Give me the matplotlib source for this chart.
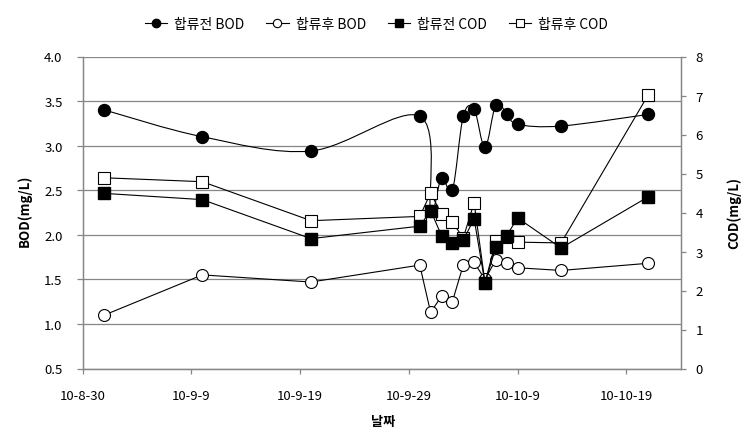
import matplotlib
matplotlib.use("Agg")
import matplotlib.pyplot as plt
import matplotlib.dates as mdates
from matplotlib.path import Path
from matplotlib.patches import PathPatch
from matplotlib.lines import Line2D
import numpy as np

plt.rcParams["font.family"] = ["Noto Sans CJK KR", "DejaVu Sans"]

dates = ["2010-09-01", "2010-09-10", "2010-09-20", "2010-09-30", "2010-10-01",
         "2010-10-02", "2010-10-03", "2010-10-04", "2010-10-05", "2010-10-06",
         "2010-10-07", "2010-10-08", "2010-10-09", "2010-10-13", "2010-10-21"]
bod_before = [3.40, 3.10, 2.94, 3.33, 2.27, 2.64, 2.50, 3.33, 3.41, 2.98,
              3.46, 3.36, 3.24, 3.22, 3.35]
bod_after = [1.10, 1.55, 1.47, 1.66, 1.13, 1.31, 1.25, 1.66, 1.69, 1.50,
             1.72, 1.68, 1.63, 1.60, 1.68]
cod_before = [4.49, 4.33, 3.33, 3.65, 4.05, 3.41, 3.23, 3.29, 3.84, 2.19,
              3.11, 3.41, 3.86, 3.09, 4.40]
cod_after = [4.89, 4.79, 3.79, 3.90, 4.50, 3.96, 3.75, 3.35, 4.25, 2.20,
             3.26, 3.38, 3.24, 3.22, 7.01]
tick_labels = ["10-8-30", "10-9-9", "10-9-19", "10-9-29", "10-10-9", "10-10-19"]
legend_labels = ["합류전 BOD", "합류후 BOD", "합류전 COD", "합류후 COD"]

GRAY = "#868686"


def smooth_path(x, y):
    # excel style smoothed line: bezier segments, tangents from neighbours / 6
    pts = np.column_stack([x, y])
    verts = [pts[0]]
    codes = [Path.MOVETO]
    n = len(pts)
    for i in range(n - 1):
        p0 = pts[max(i - 1, 0)]
        p1 = pts[i]
        p2 = pts[i + 1]
        p3 = pts[min(i + 2, n - 1)]
        verts += [p1 + (p2 - p0) / 6, p2 - (p3 - p1) / 6, p2]
        codes += [Path.CURVE4] * 3
    return Path(verts, codes)


def main():
    x = mdates.date2num(np.array(dates, dtype="datetime64[D]"))
    ticks = mdates.date2num(np.arange(np.datetime64("2010-08-30"),
                                      np.datetime64("2010-10-25"), 10))

    fig = plt.figure(figsize=(7.48, 4.39), dpi=100)
    ax = fig.add_axes([82.7 / 748, 1 - 369.5 / 439, 598 / 748, 312 / 439])
    ax2 = ax.twinx()

    # BOD on left axis
    ax.add_patch(PathPatch(smooth_path(x, bod_before), facecolor="none",
                           edgecolor="black", lw=0.8, zorder=2))
    ax.plot(x, bod_before, ls="none", marker="o", ms=8.6, color="black",
            mec="black", zorder=3)
    ax.plot(x, bod_after, color="black", lw=0.8, marker="o", ms=8.6,
            mfc="white", mec="black", mew=0.8, zorder=3)

    # COD on right axis
    ax2.plot(x, cod_after, color="black", lw=0.8, marker="s", ms=8.0,
             mfc="white", mec="black", mew=0.8)
    ax2.plot(x, cod_before, color="black", lw=0.8, marker="s", ms=8.0,
             mfc="black", mec="black")

    ax.set_xlim(mdates.date2num(np.datetime64("2010-08-30")),
                mdates.date2num(np.datetime64("2010-10-24")))
    ax.set_ylim(0.5, 4.0)
    ax.set_yticks(np.arange(0.5, 4.01, 0.5))
    ax.set_yticklabels([f"{v:.1f}" for v in np.arange(0.5, 4.01, 0.5)])
    ax2.set_ylim(0, 8)
    ax2.set_yticks(range(9))
    ax.set_xticks(ticks)
    ax.set_xticklabels(tick_labels)

    ax.grid(axis="y", color=GRAY, lw=0.9)
    ax.set_axisbelow(True)

    for a in (ax, ax2):
        a.spines["top"].set_visible(False)
        for s in ("left", "right", "bottom"):
            a.spines[s].set_color(GRAY)
            a.spines[s].set_linewidth(0.9)
    ax.tick_params(axis="y", direction="out", length=4.5, width=0.9,
                   color=GRAY, pad=10, labelsize=9.5)
    ax.tick_params(axis="x", direction="out", length=3.5, width=0.9,
                   color=GRAY, pad=11, labelsize=9.5)
    ax2.tick_params(axis="y", direction="out", length=3.5, width=0.9,
                    color=GRAY, pad=7, labelsize=9.5)

    ax.set_ylabel("BOD(mg/L)", fontsize=9.5, fontweight="bold")
    ax.yaxis.set_label_coords(-0.085, 0.51)
    ax2.set_ylabel("COD(mg/L)", fontsize=9.5, fontweight="bold")
    ax2.yaxis.set_label_coords(1.077, 0.50)
    ax.set_xlabel("날짜", fontsize=9.5, fontweight="bold")
    ax.xaxis.set_label_coords(0.502, -0.146)

    handles = [
        Line2D([], [], color="black", lw=0.8, marker="o", ms=6, mfc="black"),
        Line2D([], [], color="black", lw=0.8, marker="o", ms=6, mfc="white", mew=0.8),
        Line2D([], [], color="black", lw=0.8, marker="s", ms=6, mfc="black"),
        Line2D([], [], color="black", lw=0.8, marker="s", ms=6, mfc="white", mew=0.8),
    ]
    fig.legend(handles, legend_labels, loc="center", ncol=4, frameon=False,
               bbox_to_anchor=(376.5 / 748, 1 - 25 / 439), fontsize=10,
               handlelength=1.6, handletextpad=0.5, columnspacing=1.6)

    fig.savefig("out.png", dpi=100)


if __name__ == "__main__":
    main()
